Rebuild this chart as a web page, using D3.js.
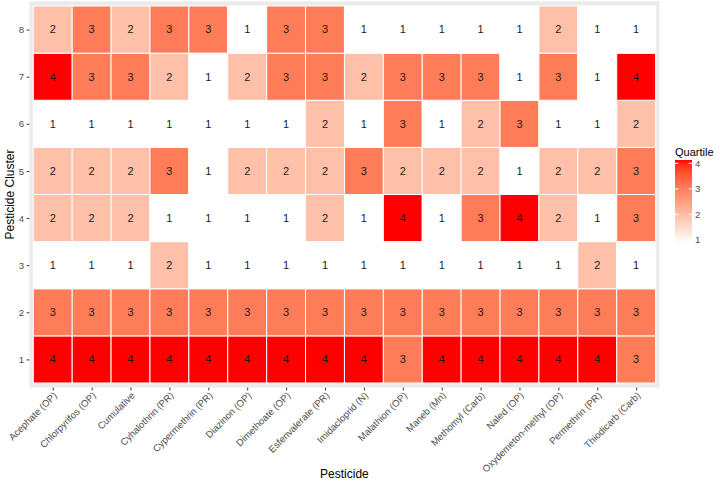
<!DOCTYPE html>
<html>
<head>
<meta charset="utf-8">
<script src="https://cdn.jsdelivr.net/npm/d3@7"></script>
<style>
html,body{margin:0;padding:0;background:#fff;}
svg{display:block;font-family:"Liberation Sans",Arial,sans-serif;}
</style>
</head>
<body>
<svg id="chart" width="720" height="484"></svg>
<script>
const pesticides = ["Acephate (OP)","Chlorpyrifos (OP)","Cumulative","Cyhalothrin (PR)","Cypermethrin (PR)","Diazinon (OP)","Dimethoate (OP)","Esfenvalerate (PR)","Imidacloprid (N)","Malathion (OP)","Maneb (Mn)","Methomyl (Carb)","Naled (OP)","Oxydemeton-methyl (OP)","Permethrin (PR)","Thiodicarb (Carb)"];
const clusters = ["1","2","3","4","5","6","7","8"];
const cluster1 = [4,4,4,4,4,4,4,4,4,3,4,4,4,4,4,3];
const cluster2 = [3,3,3,3,3,3,3,3,3,3,3,3,3,3,3,3];
const cluster3 = [1,1,1,2,1,1,1,1,1,1,1,1,1,1,2,1];
const cluster4 = [2,2,2,1,1,1,1,2,1,4,1,3,4,2,1,3];
const cluster5 = [2,2,2,3,1,2,2,2,3,2,2,2,1,2,2,3];
const cluster6 = [1,1,1,1,1,1,1,2,1,3,1,2,3,1,1,2];
const cluster7 = [4,3,3,2,1,2,3,3,2,3,3,3,1,3,1,4];
const cluster8 = [2,3,2,3,3,1,3,3,1,1,1,1,1,2,1,1];
const legendTicks = [1,2,3,4];

const rows = [cluster1,cluster2,cluster3,cluster4,cluster5,cluster6,cluster7,cluster8];
const cells = [];
rows.forEach((r,i)=>r.forEach((v,j)=>cells.push({x:pesticides[j], y:clusters[i], v})));

const svg = d3.select("#chart");
const P = {l:29.4, r:659.5, t:1.3, b:387.7};

const x = d3.scalePoint().domain(pesticides).range([P.l,P.r]).padding(0.6);
const y = d3.scalePoint().domain(clusters).range([P.b,P.t]).padding(0.6);
const color = d3.scaleLinear().domain([1,4]).range(["#ffffff","#ff0000"]).interpolate(d3.interpolateLab);

// panel background
svg.append("rect").attr("x",P.l).attr("y",P.t).attr("width",P.r-P.l).attr("height",P.b-P.t).attr("fill","#ebebeb");

const sx = x.step(), sy = y.step();
svg.append("g").selectAll("rect").data(cells).join("rect")
  .attr("x",d=>x(d.x)-sx/2).attr("y",d=>y(d.y)-sy/2)
  .attr("width",sx).attr("height",sy)
  .attr("fill",d=>color(d.v)).attr("stroke","#ffffff").attr("stroke-width",1);

svg.append("g").selectAll("text").data(cells).join("text")
  .attr("x",d=>x(d.x)).attr("y",d=>y(d.y))
  .attr("dy","0.35em").attr("text-anchor","middle")
  .attr("font-size",11).attr("fill","#1a1a1a")
  .text(d=>d.v);

// axes
const xAxis = svg.append("g").attr("transform",`translate(0,${P.b})`)
  .call(d3.axisBottom(x).tickSize(2.7).tickPadding(2));
xAxis.select(".domain").remove();
xAxis.selectAll("line").attr("stroke","#333333");
xAxis.selectAll("text")
  .attr("fill","#4d4d4d").attr("font-size",9.6)
  .attr("text-anchor","end")
  .attr("transform","translate(2,6) rotate(-45)")
  .attr("dy","0.35em").attr("y",0).attr("x",0);
xAxis.selectAll(".tick text").attr("font-family","Liberation Sans, Arial, sans-serif");

const yAxis = svg.append("g").attr("transform",`translate(${P.l},0)`)
  .call(d3.axisLeft(y).tickSize(2.7).tickPadding(2.5));
yAxis.select(".domain").remove();
yAxis.selectAll("line").attr("stroke","#333333");
yAxis.selectAll("text").attr("fill","#4d4d4d").attr("font-size",9.6).attr("font-family","Liberation Sans, Arial, sans-serif");

// titles
svg.append("text").attr("x",(P.l+P.r)/2).attr("y",478).attr("text-anchor","middle")
  .attr("font-size",12).attr("fill","#000").text("Pesticide");
svg.append("text").attr("transform",`translate(14,${(P.t+P.b)/2}) rotate(-90)`)
  .attr("text-anchor","middle").attr("font-size",12).attr("fill","#000").text("Pesticide Cluster");

// legend
const lg = svg.append("g");
const ly = d3.scaleLinear().domain([1,4]).range([240,163.3]);
const defs = svg.append("defs");
const grad = defs.append("linearGradient").attr("id","lgrad").attr("x1",0).attr("y1",1).attr("x2",0).attr("y2",0);
d3.range(0,1.0001,0.05).forEach(t=>{
  grad.append("stop").attr("offset",t).attr("stop-color",color(1+3*t));
});
const barTop = ly(4)-3.3, barBot = ly(1)+3.3;
lg.append("text").attr("x",675).attr("y",156).attr("font-size",11).attr("fill","#000").text("Quartile");
lg.append("rect").attr("x",675).attr("y",barTop).attr("width",17).attr("height",barBot-barTop)
  .attr("fill","url(#lgrad)");
lg.selectAll("line.l").data(legendTicks).join("line")
  .attr("x1",675).attr("x2",678.4).attr("y1",d=>ly(d)).attr("y2",d=>ly(d))
  .attr("stroke","#ffffff").attr("stroke-width",1);
lg.selectAll("line.r").data(legendTicks).join("line")
  .attr("x1",688.6).attr("x2",692).attr("y1",d=>ly(d)).attr("y2",d=>ly(d))
  .attr("stroke","#ffffff").attr("stroke-width",1);
lg.selectAll("text.t").data(legendTicks).join("text")
  .attr("x",695).attr("y",d=>ly(d)).attr("dy","0.35em")
  .attr("font-size",9.6).attr("fill","#4d4d4d").text(d=>d);
</script>
</body>
</html>
